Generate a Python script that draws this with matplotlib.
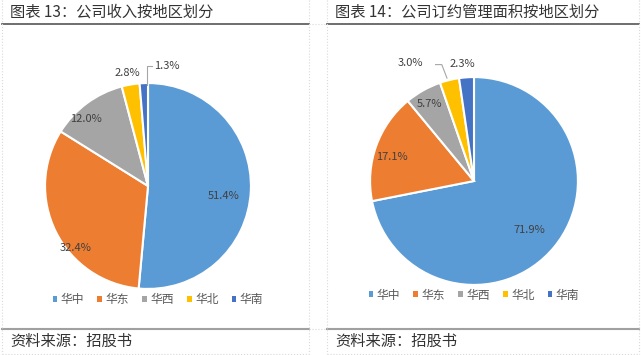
import matplotlib
matplotlib.use('Agg')
import matplotlib.pyplot as plt
from matplotlib.patches import Patch

plt.rcParams['font.family'] = ['Noto Sans CJK SC', 'DejaVu Sans']

regions = ['华中', '华东', '华西', '华北', '华南']
colors = ['#5B9BD5', '#ED7D31', '#A5A5A5', '#FFC000', '#4472C4']

revenue = [51.4, 32.4, 12.0, 2.8, 1.3]
area = [71.9, 17.1, 5.7, 3.0, 2.3]

titles = ['图表 13：公司收入按地区划分', '图表 14：公司订约管理面积按地区划分']
source = '资料来源：招股书'

# label positions in pie units (radius = 1)
rev_lab = [(0.73, -0.10), (-0.70, -0.60), (-0.60, 0.65), (-0.20, 1.10), (0.18, 1.17)]
area_lab = [(0.53, -0.47), (-0.79, 0.23), (-0.43, 0.74), (-0.61, 1.14), (-0.11, 1.13)]

W, H = 641, 355
fig = plt.figure(figsize=(W / 100, H / 100), dpi=100)


def px_axes(x0, y0, w, h):
    return fig.add_axes([x0 / W, 1 - (y0 + h) / H, w / W, h / H])


def pie_panel(ax, vals, labs):
    wedges, _ = ax.pie(vals, colors=colors, startangle=90, counterclock=False,
                       wedgeprops=dict(edgecolor='white', linewidth=1.5))
    for v, (x, y) in zip(vals, labs):
        ax.text(x, y, '%.1f%%' % v, ha='center', va='center', fontsize=8,
                color='#404040')
    ax.set_xlim(-1.02, 1.02)
    ax.set_ylim(-1.02, 1.02)
    ax.set_aspect('equal')
    ax.axis('off')
    return wedges


# left pie
ax1 = px_axes(43, 81, 210, 210)
pie_panel(ax1, revenue, rev_lab)
ax1.plot([-0.01, -0.01, 0.04], [0.98, 1.17, 1.17], color='#a6a6a6', lw=0.8,
         clip_on=False)

# right pie
ax2 = px_axes(368, 75, 212, 212)
pie_panel(ax2, area, area_lab)
ax2.plot([-0.37, -0.31, -0.26], [1.12, 1.12, 0.99], color='#a6a6a6', lw=0.8,
         clip_on=False)

# frame, titles and source lines drawn in pixel space
bg = fig.add_axes([0, 0, 1, 1], zorder=-1)
bg.set_xlim(0, W)
bg.set_ylim(H, 0)
bg.axis('off')

for x0, x1, title in [(2, 309, titles[0]), (327, 639, titles[1])]:
    bg.plot([x0, x1], [24, 24], color='#555555', lw=1.2)
    bg.plot([x0, x1], [329, 329], color='#a0a0a0', lw=1.5)
    bg.text(x0 + 8, 12, title, fontsize=11, color='#333333', va='center')
    bg.text(x0 + 8, 341, source, fontsize=11, color='#333333', va='center')
    for xv in (x0, x1):
        bg.plot([xv, xv], [0, 354], color='#d9d9d9', lw=0.8, ls=':')
    bg.plot([x0, x1], [354, 354], color='#d9d9d9', lw=0.8, ls=':')
bg.plot([309, 327], [24, 24], color='#d9d9d9', lw=0.8, ls=':')
bg.plot([309, 327], [329, 329], color='#d9d9d9', lw=0.8, ls=':')

handles = [Patch(facecolor=c, edgecolor='none') for c in colors]
for cx, cy in [(158, 300), (474, 295)]:
    fig.legend(handles, regions, loc='center', bbox_to_anchor=(cx / W, 1 - cy / H),
               ncol=5, frameon=False, fontsize=8.5, handlelength=0.4,
               handleheight=0.4, handletextpad=0.3, columnspacing=1.1,
               labelcolor='#595959')

fig.savefig('out.png', dpi=100)
